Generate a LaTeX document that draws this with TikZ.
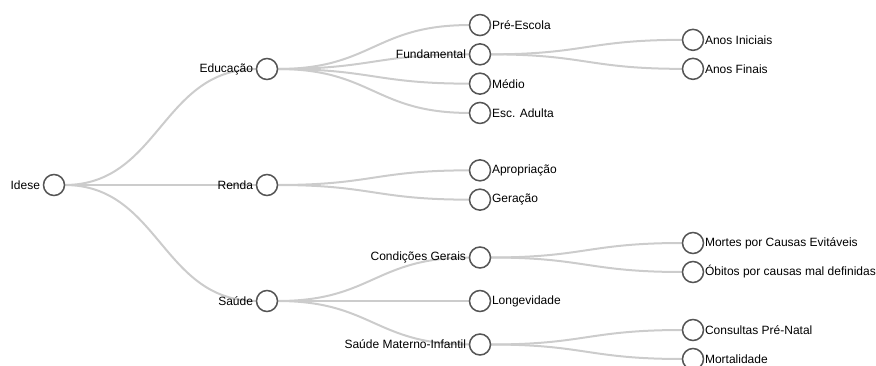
\documentclass[tikz,border=0pt]{standalone}
\usepackage{fontspec}
\setmainfont{Liberation Sans}
\usepackage{tikz}
\usetikzlibrary{trees}
\usetikzlibrary{positioning,backgrounds}
\definecolor{linkgray}{HTML}{CCCCCC}
\definecolor{ringgray}{HTML}{555555}
\tikzset{
    dot/.style={circle, draw=ringgray, line width=1.5pt, fill=white,
        minimum size=21pt, inner sep=0pt, outer sep=0pt},
    inner/.style={dot, label={[label distance=0pt]left:#1}},
    leaf/.style={dot, label={[label distance=-2pt]right:#1}},
    every label/.append style={font=\fontsize{12}{14}\selectfont, text=black},
    wide/.style={sibling distance=43.5pt},
    link/.style={draw=linkgray, line width=2pt},
}

\begin{document}
\begin{tikzpicture}[x=1pt, y=1pt, grow'=right,
          level distance=213pt,
          level 1/.style={sibling distance=116pt},
          level 2/.style={sibling distance=29.3pt},
          level 3/.style={sibling distance=29pt},
          edge from parent/.style={draw=none},
          edge from parent path={}]
          \useasboundingbox (0,0) rectangle (876,365);
          \clip (0,0) rectangle (876,365);
          \node[inner=Idese] (idese) at (54,180) {}
            child {node[inner=Educação] (educacao) {}
              child {node[leaf=Pré-Escola] (preescola) {}}
              child {node[inner=Fundamental] (fundamental) {}
                  child {node[leaf=Anos Iniciais] (iniciais) {}}
                  child {node[leaf=Anos Finais] (finais) {}}
              }
              child {node[leaf=Médio] (medio) {}}
              child {node[leaf=Esc. Adulta] (adulta) {}}
            }
            child {node[inner=Renda] (renda) {}
              child {node[leaf=Apropriação] (apropriacao) {}}
              child {node[leaf=Geração] (geracao) {}}
            }
            child {node[inner=Saúde] (saude) {}
              child[wide] {node[inner=Condições Gerais] (condicoes) {}
                  child {node[leaf=Mortes por Causas Evitáveis] (evitaveis) {}}
                  child {node[leaf=Óbitos por causas mal definidas] (obitos) {}}
              }
              child[wide] {node[leaf=Longevidade] (longevidade) {}}
              child[wide] {node[inner=Saúde Materno-Infantil] (materno) {}
                  child {node[leaf=Consultas Pré-Natal] (prenatal) {}}
                  child {node[leaf=Mortalidade] (mortalidade) {}}
              }
            };
          % links go under the circles and the labels
          \begin{scope}[on background layer]
            \foreach \from/\to in {idese/educacao, idese/renda, idese/saude,
                educacao/preescola, educacao/fundamental, educacao/medio, educacao/adulta,
                fundamental/iniciais, fundamental/finais,
                renda/apropriacao, renda/geracao,
                saude/condicoes, saude/longevidade, saude/materno,
                condicoes/evitaveis, condicoes/obitos,
                materno/prenatal, materno/mortalidade}
              \draw[link] (\from.east) .. controls +(95,0) and +(-95,0) .. (\to.west);
          \end{scope}
        \end{tikzpicture}
\end{document}
